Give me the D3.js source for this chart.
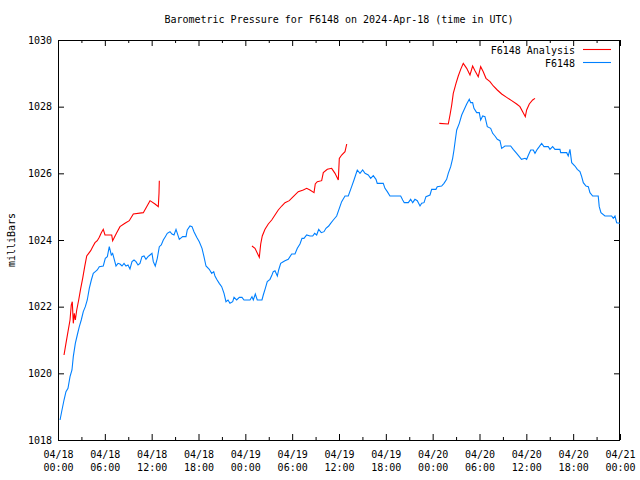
<!DOCTYPE html>
<html><head><meta charset="utf-8">
<script src="https://cdn.jsdelivr.net/npm/d3@7"></script>
<style>
body{margin:0;background:#fff;}
text{font-family:"DejaVu Sans Mono","Liberation Mono",monospace;font-size:10px;fill:#000;}
</style></head>
<body><svg id="chart" width="640" height="480"></svg>
<script>
// ---- data (hours since 2024-04-18 00:00 UTC, millibars) ----
const stationHours = [0.26,0.51,0.77,1.02,1.28,1.54,1.79,1.96,2.22,2.47,2.73,2.98,3.24,3.5,3.75,4.01,4.27,4.52,4.78,5.03,5.29,5.8,6.06,6.32,6.57,6.83,7.0,7.17,7.43,7.69,7.94,8.2,8.46,8.71,8.97,9.22,9.48,9.74,9.99,10.25,10.5,10.76,11.02,11.27,11.53,11.79,12.04,12.21,12.46,12.72,12.98,13.23,13.49,13.75,14.0,14.35,14.6,14.86,15.12,15.54,15.97,16.4,16.56,16.91,17.17,17.42,17.77,18.1,18.45,18.7,18.96,19.38,19.69,19.95,20.11,20.33,20.66,20.97,21.27,21.52,21.78,22.03,22.38,22.55,22.89,23.23,23.57,23.83,24.6,24.85,25.02,25.28,25.53,26.13,26.3,26.56,26.81,27.16,27.41,27.58,27.8,28.1,28.27,28.53,28.86,29.08,29.5,29.94,30.36,30.66,31.0,31.26,31.51,31.86,32.28,32.63,32.88,33.14,33.4,33.73,34.08,34.33,34.68,34.93,35.27,35.7,36.04,36.34,36.77,37.19,37.62,37.92,38.34,38.69,39.03,39.33,39.75,40.06,40.39,40.74,40.9,41.67,41.89,42.19,42.53,43.9,44.16,44.36,44.88,45.18,45.44,45.73,46.03,46.38,46.59,46.89,47.14,47.66,47.87,48.42,48.59,49.15,49.45,49.79,50.0,50.31,50.56,50.73,50.9,51.08,51.41,51.72,52.01,52.36,52.69,52.87,53.12,53.29,53.64,53.97,54.15,54.41,54.7,55.0,55.43,55.69,55.98,56.28,56.62,56.84,57.26,57.99,58.32,58.76,59.1,59.38,59.83,60.04,60.27,60.56,60.89,61.11,61.4,61.66,61.96,62.26,62.81,63.03,63.37,63.67,64.31,64.4,65.17,65.37,65.59,65.81,66.23,66.53,66.87,67.09,67.3,67.64,67.94,68.15,68.5,69.21,69.34,69.56,70.07,70.93,71.14,71.36,71.57,72.0];
const stationPressure = [1018.6,1018.9,1019.2,1019.45,1019.55,1019.9,1020.1,1020.5,1020.9,1021.15,1021.4,1021.6,1021.85,1022.0,1022.2,1022.55,1022.8,1023.0,1023.05,1023.1,1023.2,1023.22,1023.45,1023.5,1023.8,1023.55,1023.6,1023.45,1023.22,1023.3,1023.28,1023.22,1023.3,1023.22,1023.25,1023.13,1023.35,1023.4,1023.35,1023.25,1023.3,1023.5,1023.52,1023.42,1023.5,1023.55,1023.6,1023.35,1023.22,1023.45,1023.8,1023.85,1024.0,1024.1,1024.2,1024.25,1024.18,1024.15,1024.32,1024.02,1024.1,1024.1,1024.3,1024.42,1024.4,1024.25,1024.08,1023.95,1023.75,1023.5,1023.22,1023.12,1023.0,1023.05,1022.92,1022.82,1022.7,1022.6,1022.4,1022.15,1022.2,1022.1,1022.15,1022.28,1022.2,1022.28,1022.28,1022.2,1022.2,1022.3,1022.2,1022.38,1022.2,1022.2,1022.35,1022.55,1022.75,1022.82,1022.95,1023.05,1023.08,1022.92,1023.1,1023.3,1023.35,1023.38,1023.42,1023.58,1023.58,1023.75,1023.88,1024.05,1024.05,1024.15,1024.12,1024.12,1024.2,1024.15,1024.32,1024.22,1024.25,1024.35,1024.42,1024.5,1024.6,1024.72,1024.95,1025.15,1025.32,1025.32,1025.6,1025.8,1026.1,1026.0,1026.1,1026.0,1025.95,1025.85,1025.93,1025.82,1025.7,1025.7,1025.55,1025.45,1025.32,1025.32,1025.2,1025.12,1025.12,1025.22,1025.12,1025.22,1025.18,1025.02,1025.1,1025.12,1025.3,1025.35,1025.52,1025.52,1025.6,1025.62,1025.7,1025.82,1026.0,1026.2,1026.45,1026.7,1027.0,1027.3,1027.5,1027.75,1027.9,1028.08,1028.22,1028.12,1028.12,1027.95,1027.82,1027.82,1027.6,1027.72,1027.7,1027.4,1027.35,1027.2,1027.12,1027.02,1026.98,1026.75,1026.82,1026.82,1026.72,1026.6,1026.5,1026.42,1026.45,1026.42,1026.55,1026.7,1026.7,1026.6,1026.72,1026.8,1026.9,1026.8,1026.8,1026.72,1026.8,1026.72,1026.72,1026.62,1026.62,1026.52,1026.72,1026.32,1026.22,1026.12,1026.05,1025.9,1025.72,1025.62,1025.6,1025.42,1025.32,1025.32,1025.0,1024.82,1024.72,1024.72,1024.65,1024.72,1024.52,1024.5];

// analysis series; null marks a gap between runs
const analysisHours = [0.77,1.02,1.28,1.54,1.7,1.83,1.96,2.09,2.22,2.4,2.65,2.91,3.16,3.42,3.68,3.93,4.19,4.45,4.74,5.03,5.29,5.55,5.8,6.02,6.88,7.0,7.52,7.94,8.58,9.13,9.65,10.93,11.36,11.79,12.43,12.85,12.94,12.98,
  18.0,
  24.85,25.24,25.79,25.97,26.17,26.52,26.94,27.38,27.8,28.22,28.66,29.08,29.63,30.14,30.78,31.42,31.86,32.28,32.8,32.96,33.22,33.78,33.99,34.5,35.06,35.49,35.91,36.04,36.34,36.77,36.99,
  42.0,
  48.85,50.0,50.22,50.44,50.64,50.99,51.28,51.59,51.92,52.36,52.78,53.12,53.42,53.84,54.15,54.48,54.83,55.34,55.77,56.28,56.84,57.48,58.12,58.76,59.18,59.53,59.87,60.04,60.38,60.81,61.11];
const analysisPressure = [1020.55,1020.9,1021.25,1021.6,1022.05,1022.15,1021.5,1021.8,1021.6,1021.9,1022.2,1022.55,1022.85,1023.2,1023.52,1023.6,1023.68,1023.8,1023.92,1023.98,1024.08,1024.22,1024.32,1024.15,1024.15,1023.98,1024.22,1024.4,1024.5,1024.58,1024.78,1024.82,1025.0,1025.18,1025.08,1025.0,1025.4,1025.78,
  null,
  1023.82,1023.75,1023.48,1023.88,1024.12,1024.32,1024.48,1024.6,1024.75,1024.9,1025.02,1025.12,1025.18,1025.3,1025.45,1025.5,1025.55,1025.5,1025.42,1025.68,1025.75,1025.78,1026.02,1026.12,1026.15,1026.0,1025.8,1026.45,1026.55,1026.65,1026.88,
  null,
  1027.5,1027.48,1027.75,1028.05,1028.4,1028.7,1028.92,1029.12,1029.3,1029.15,1028.95,1029.22,1029.08,1028.9,1029.2,1029.05,1028.85,1028.75,1028.62,1028.5,1028.38,1028.28,1028.18,1028.08,1028.0,1027.85,1027.7,1027.9,1028.08,1028.2,1028.25];

const xTickHours = [0,6,12,18,24,30,36,42,48,54,60,66,72];
const xTickDates = ["04/18","04/18","04/18","04/18","04/19","04/19","04/19","04/19","04/20","04/20","04/20","04/20","04/21"];
const xTickTimes = ["00:00","06:00","12:00","18:00","00:00","06:00","12:00","18:00","00:00","06:00","12:00","18:00","00:00"];
const xMinorHours = [3,9,15,21,27,33,39,45,51,57,63,69];
const yTicks = [1018,1020,1022,1024,1026,1028,1030];
const seriesNames = ["F6148 Analysis","F6148"];
const seriesColors = ["#ff0000","#0080ff"];
const titleText = "Barometric Pressure for F6148 on 2024-Apr-18 (time in UTC)";
const yLabel = "milliBars";

// ---- drawing ----
const L = 58, R = 620, T = 40, B = 440;
const svg = d3.select("#chart");
const x = d3.scaleLinear().domain([0,72]).range([L,R]);
const y = d3.scaleLinear().domain([1018,1030]).range([B,T]);

svg.append("text").attr("x",(L+R)/2).attr("y",23).attr("text-anchor","middle").text(titleText);
svg.append("text").attr("transform","translate(15,240) rotate(-90)").attr("text-anchor","middle").text(yLabel);

// axes (ticks inward, mirrored)
const gb = svg.append("g").attr("transform",`translate(0,${B})`)
  .call(d3.axisBottom(x).tickValues(xTickHours).tickSizeInner(-6).tickSizeOuter(0).tickFormat(""));
gb.selectAll(".tick").each(function(d,i){
  const t = d3.select(this).append("text").attr("text-anchor","middle").attr("fill","#000");
  t.append("tspan").attr("x",0).attr("y",18).text(xTickDates[i]);
  t.append("tspan").attr("x",0).attr("y",31).text(xTickTimes[i]);
});
svg.append("g").attr("transform",`translate(0,${B})`)
  .call(d3.axisBottom(x).tickValues(xMinorHours).tickSizeInner(-3).tickSizeOuter(0).tickFormat(""));
svg.append("g").attr("transform",`translate(0,${T})`)
  .call(d3.axisTop(x).tickValues(xTickHours).tickSizeInner(-6).tickSizeOuter(0).tickFormat(""));
svg.append("g").attr("transform",`translate(0,${T})`)
  .call(d3.axisTop(x).tickValues(xMinorHours).tickSizeInner(-3).tickSizeOuter(0).tickFormat(""));
svg.append("g").attr("transform",`translate(${L},0)`)
  .call(d3.axisLeft(y).tickValues(yTicks).tickSizeInner(-6).tickSizeOuter(0).tickPadding(6).tickFormat(d3.format("d")));
svg.append("g").attr("transform",`translate(${R},0)`)
  .call(d3.axisRight(y).tickValues(yTicks).tickSizeInner(-6).tickSizeOuter(0).tickFormat(""));
svg.selectAll(".domain").remove();
svg.selectAll(".tick line").attr("stroke","#000");
svg.selectAll(".tick text").style("font-family",'"DejaVu Sans Mono","Liberation Mono",monospace').style("font-size","10px");

svg.append("rect").attr("x",L+0.5).attr("y",T+0.5).attr("width",R-L-1).attr("height",B-T)
  .attr("fill","none").attr("stroke","#000");

const line = d3.line().defined(d=>d[1]!==null).x(d=>x(d[0])).y(d=>y(d[1]));
const stationData = stationHours.map((h,i)=>[h,stationPressure[i]]);
const analysisData = analysisHours.map((h,i)=>[h,analysisPressure[i]]);
svg.append("path").datum(stationData).attr("d",line).attr("fill","none").attr("stroke",seriesColors[1]).attr("stroke-width",1.1);
svg.append("path").datum(analysisData).attr("d",line).attr("fill","none").attr("stroke",seriesColors[0]).attr("stroke-width",1.1);

// legend
seriesNames.forEach((n,i)=>{
  const yy = 50 + i*13;
  svg.append("text").attr("x",575).attr("y",yy+3.5).attr("text-anchor","end").text(n);
  svg.append("line").attr("x1",583).attr("x2",611).attr("y1",yy-0.5).attr("y2",yy-0.5).attr("stroke",seriesColors[i]).attr("stroke-width",1.1);
});
</script></body></html>
